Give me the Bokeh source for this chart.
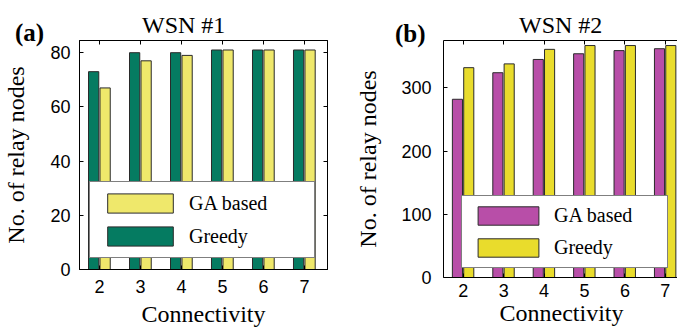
from bokeh.plotting import figure
from bokeh.layouts import row
from bokeh.models import (Range1d, FixedTicker, LinearAxis, Legend, LegendItem,
                          ColumnDataSource, Div)
from bokeh.transform import dodge
from bokeh.embed import file_html
from bokeh.resources import INLINE

# ---------------- data ----------------
connectivity = [2, 3, 4, 5, 6, 7]
wsn1_greedy = [73, 80, 80, 81, 81, 81]
wsn1_ga = [67, 77, 79, 81, 81, 81]
wsn2_ga = [282, 324, 345, 354, 359, 362]
wsn2_greedy = [332, 338, 361, 367, 367, 367]
y_ticks_1 = [0, 20, 40, 60, 80]
y_ticks_2 = [0, 100, 200, 300]

SERIF = "Liberation Serif"
SANS = "Liberation Sans"
H = 328


def style_axis(ax, show_labels=True, standoff=8):
    ax.major_tick_in = 4
    ax.major_tick_out = 0
    ax.minor_tick_line_color = None
    ax.axis_line_color = "black"
    ax.major_tick_line_color = "black"
    if show_labels:
        ax.major_label_text_font = SANS
        ax.major_label_text_font_size = "18px"
        ax.major_label_text_color = "black"
        ax.major_label_standoff = standoff
    else:
        ax.major_label_text_font_size = "0px"
        ax.major_label_standoff = 0


def make_panel(frame, borders, xr, yr, yticks, left_vals, right_vals,
               left_color, right_color, items,
               legend_loc, legend_dims, ytick_standoff, ylabel_standoff,
               xtick_standoff, xlabel_standoff, boxed):
    fw, fh = frame
    bl, br, bt, bb = borders
    p = figure(frame_width=fw, frame_height=fh, output_backend="svg", toolbar_location=None,
               x_range=Range1d(*xr), y_range=Range1d(*yr),
               min_border_left=bl, min_border_right=br,
               min_border_top=bt, min_border_bottom=bb)
    p.xgrid.visible = False
    p.ygrid.visible = False
    p.background_fill_color = "white"
    p.border_fill_color = "white"
    if boxed:
        p.outline_line_color = "black"
        p.outline_line_width = 1
    else:
        p.outline_line_color = None

    src = ColumnDataSource(dict(x=connectivity, left=left_vals, right=right_vals))
    r_left = p.vbar(x=dodge("x", -0.145), top="left", width=0.25, source=src,
                    fill_color=left_color, line_color="#2a2a2a", line_width=1)
    r_right = p.vbar(x=dodge("x", 0.135), top="right", width=0.25, source=src,
                     fill_color=right_color, line_color="#2a2a2a", line_width=1)

    # axes
    p.xaxis.ticker = FixedTicker(ticks=connectivity)
    p.yaxis.ticker = FixedTicker(ticks=yticks)
    style_axis(p.xaxis[0], True, xtick_standoff)
    style_axis(p.yaxis[0], True, ytick_standoff)
    for ax in (p.xaxis[0], p.yaxis[0]):
        ax.axis_label_text_font = SERIF
        ax.axis_label_text_font_size = "24px"
        ax.axis_label_text_font_style = "normal"
        ax.axis_label_text_color = "black"
    p.xaxis.axis_label = "Connectivity"
    p.yaxis.axis_label = "No. of relay nodes"
    p.xaxis.axis_label_standoff = xlabel_standoff
    p.yaxis.axis_label_standoff = ylabel_standoff

    top = LinearAxis(ticker=FixedTicker(ticks=connectivity))
    style_axis(top, False)
    p.add_layout(top, "above")
    if boxed:
        right = LinearAxis(ticker=FixedTicker(ticks=yticks))
        style_axis(right, False)
        p.add_layout(right, "right")

    # legend
    gw, gh, pad, spacing, labw = legend_dims
    renderers = {"left": r_left, "right": r_right}
    legend = Legend(items=[LegendItem(label=lab, renderers=[renderers[k]]) for lab, k in items],
                    location=legend_loc, orientation="vertical")
    legend.border_line_color = "black"
    legend.border_line_width = 1
    legend.background_fill_color = "white"
    legend.background_fill_alpha = 1
    legend.label_text_font = SERIF
    legend.label_text_font_size = "20px"
    legend.label_text_color = "black"
    legend.glyph_width = gw
    legend.glyph_height = gh
    legend.label_height = gh
    legend.label_standoff = 8
    legend.padding = pad
    legend.spacing = spacing
    legend.label_width = labw
    legend.margin = 0
    p.add_layout(legend)
    return p


def overlay_text(text, left, top, size, weight):
    return Div(text=text, width=0, height=H, margin=0,
               styles={"position": "relative", "left": f"{left}px", "top": f"{top}px",
                       "z-index": "10", "overflow": "visible",
                       "white-space": "nowrap", "font-family": SERIF,
                       "font-size": size, "font-weight": weight, "line-height": "1",
                       "color": "black", "padding": "0px"})


pa = make_panel((248, 229), (77, 15, 40, 59), (1.51, 7.56), (0, 84.5), y_ticks_1,
                wsn1_greedy, wsn1_ga, "#057b61", "#efe86b",
                [("GA based", "right"), ("Greedy", "left")],
                (10, 11), (82, 24, 9, 9, 116), 9, 18, 10, 5, True)

pb = make_panel((236, 237), (101, 0, 40, 51), (1.51, 7.35), (0, 375), y_ticks_2,
                wsn2_ga, wsn2_greedy, "#b84ea8", "#e9dc2c",
                [("GA based", "left"), ("Greedy", "right")],
                (18, 9), (76, 23, 8, 9, 105), 12, 17, 6, 0, False)

layout = row(overlay_text("(a)", 15, 20, "25px", "bold"),
             overlay_text("WSN #1", 142, 13, "24px", "normal"),
             pa,
             overlay_text("(b)", 53, 21, "25px", "bold"),
             overlay_text("WSN #2", 177, 13, "24px", "normal"),
             pb)
open("out.html", "w").write(file_html(layout, INLINE))
